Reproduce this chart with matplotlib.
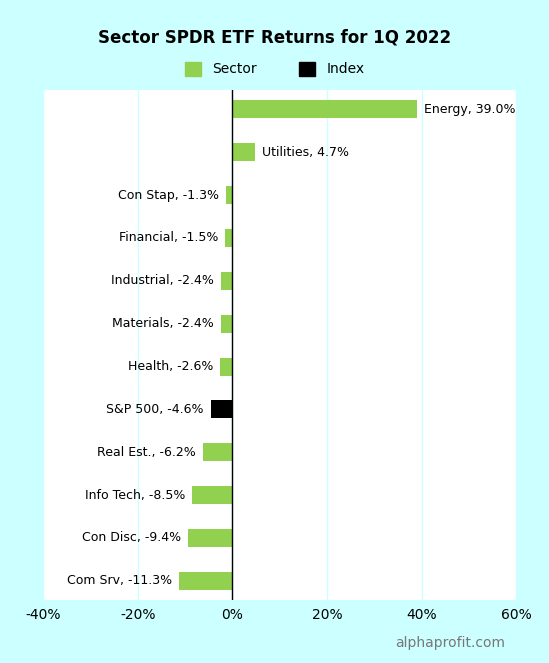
import matplotlib
matplotlib.use("Agg")
import matplotlib.pyplot as plt
from matplotlib.patches import Patch

labels = ["Energy", "Utilities", "Con Stap", "Financial", "Industrial", "Materials",
          "Health", "S&P 500", "Real Est.", "Info Tech", "Con Disc", "Com Srv"]
values = [39.0, 4.7, -1.3, -1.5, -2.4, -2.4, -2.6, -4.6, -6.2, -8.5, -9.4, -11.3]
kinds = ["Sector"] * 7 + ["Index"] + ["Sector"] * 4
colors = {"Sector": "#92d050", "Index": "#000000"}

fig = plt.figure(figsize=(5.49, 6.63), dpi=100, facecolor="#ccffff")
ax = fig.add_axes([0.0783, 0.095, 0.862, 0.769])
ax.set_facecolor("white")
ypos = list(range(len(labels)))
ax.barh(ypos, values, height=0.42, color=[colors[k] for k in kinds], zorder=3)
for y, v, l in zip(ypos, values, labels):
    txt = f"{l}, {v:.1f}%"
    if v >= 0:
        ax.text(v + 1.5, y, txt, va="center", ha="left", fontsize=9, zorder=4)
    else:
        ax.text(v - 1.5, y, txt, va="center", ha="right", fontsize=9, zorder=4)
ax.set_ylim(11.45, -0.45)
ax.set_xlim(-40, 60)
ax.set_xticks([-40, -20, 0, 20, 40, 60])
ax.set_xticklabels([f"{t}%" for t in [-40, -20, 0, 20, 40, 60]], fontsize=10)
ax.set_yticks([])
ax.grid(axis="x", color="#ccffff", lw=1, zorder=0)
ax.axvline(0, color="black", lw=1, zorder=5)
for s in ax.spines.values():
    s.set_visible(False)
ax.tick_params(axis="x", length=0, pad=6)
fig.text(0.5, 0.944, "Sector SPDR ETF Returns for 1Q 2022", ha="center", va="center",
         fontsize=12, fontweight="bold")
handles = [Patch(color=colors["Sector"], label="Sector"), Patch(color=colors["Index"], label="Index")]
fig.legend(handles=handles, loc="center", bbox_to_anchor=(0.5, 0.896), ncol=2, frameon=False,
           fontsize=10, handlelength=1.2, handleheight=1.2, columnspacing=3)
fig.text(0.92, 0.03, "alphaprofit.com", ha="right", va="center", fontsize=10, color="#777777")
fig.savefig("out.png", dpi=100, facecolor=fig.get_facecolor())
